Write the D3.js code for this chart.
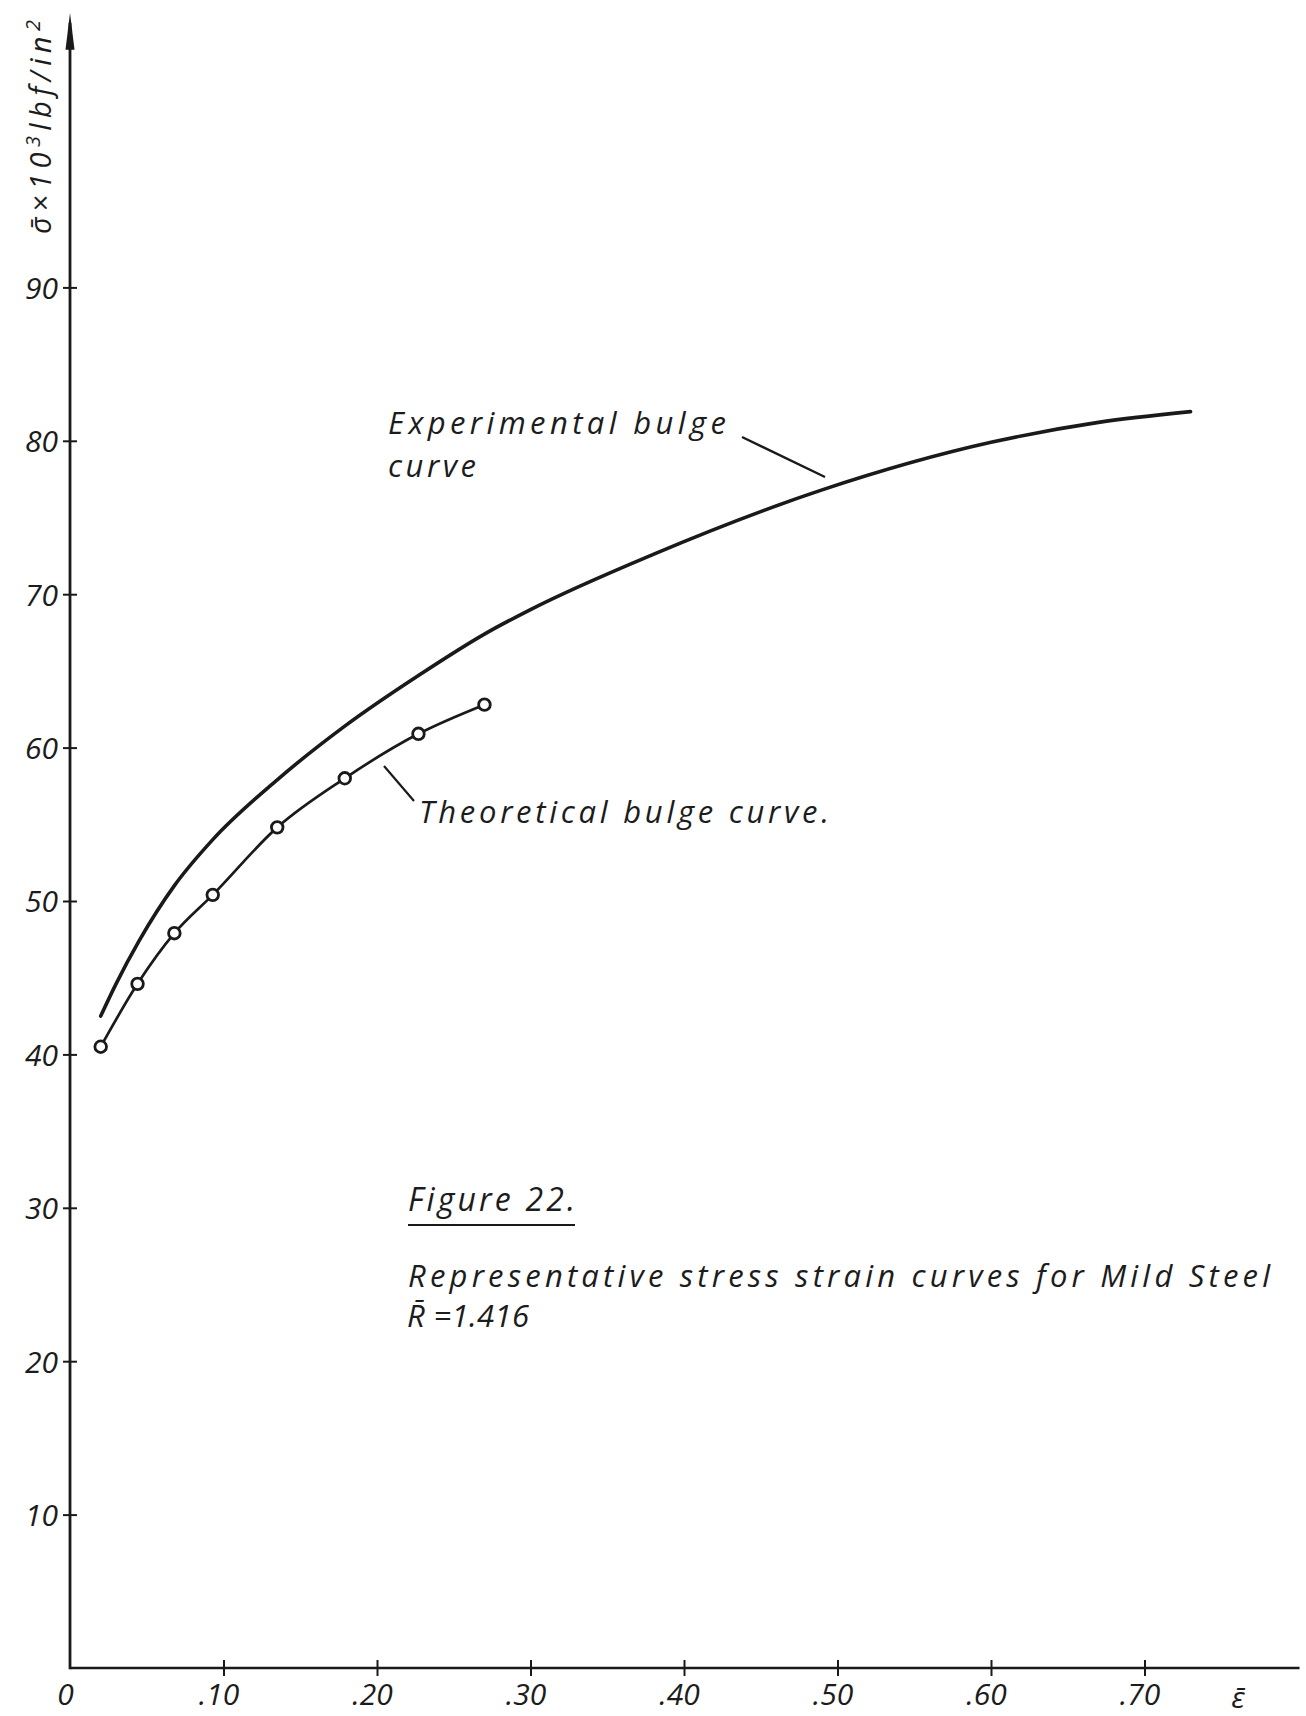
<!DOCTYPE html>
<html>
<head>
<meta charset="utf-8">
<script src="https://cdn.jsdelivr.net/npm/d3@7"></script>
<style>
  html, body { margin: 0; padding: 0; background: #ffffff; }
  svg text {
    font-family: "Open Sans", "DejaVu Sans", sans-serif;
    font-style: italic;
    font-weight: 400;
    fill: #1c1c1c;
  }
</style>
</head>
<body>
<svg id="chart" width="1306" height="1716"></svg>
<script>
// Strain axis (ε̄) ticks and labels
const strainTicks = [0, 0.10, 0.20, 0.30, 0.40, 0.50, 0.60, 0.70];
const strainTickLabels = ["0", ".10", ".20", ".30", ".40", ".50", ".60", ".70"];

// Stress axis (σ̄ × 10³ lbf/in²) ticks and labels
const stressTicks = [10, 20, 30, 40, 50, 60, 70, 80, 90];
const stressTickLabels = ["10", "20", "30", "40", "50", "60", "70", "80", "90"];

// Theoretical bulge curve: computed points (circled)
const theoreticalStrain = [0.020, 0.044, 0.068, 0.093, 0.135, 0.179, 0.227, 0.270];
const theoreticalStress = [40.5, 44.6, 47.9, 50.4, 54.8, 58.0, 60.9, 62.8];

// Experimental bulge curve: smooth measured curve
const experimentalStrain = [0.020, 0.030, 0.045, 0.068, 0.093, 0.135, 0.179, 0.227, 0.270, 0.300, 0.380, 0.490, 0.600, 0.670, 0.730];
const experimentalStress = [42.5, 44.6, 47.4, 51.0, 54.0, 57.9, 61.4, 64.7, 67.4, 69.0, 72.6, 76.8, 79.9, 81.2, 81.9];

// Axis extents beyond the last tick
const strainAxisEnd = 0.801;
const stressAxisEnd = 107.9;

const svg = d3.select("#chart");
const ink = "#1a1a1a";

const x = d3.scaleLinear().domain([0, 0.70]).range([70, 1144.5]);
const y = d3.scaleLinear().domain([0, 90]).range([1668, 287.4]);

// ---- axes ----
const yAxisG = svg.append("g").attr("transform", `translate(${x(0)},0)`)
  .call(d3.axisLeft(y).tickValues(stressTicks)
    .tickFormat((d, i) => stressTickLabels[i]).tickSize(0).tickPadding(12));
yAxisG.select(".domain").remove();
yAxisG.selectAll(".tick line")
  .attr("x1", -7).attr("x2", 7)
  .attr("stroke", ink).attr("stroke-width", 2);
yAxisG.selectAll(".tick text")
  .attr("x", -12).attr("dy", "0.36em")
  .style("font-size", "30px");

const xAxisG = svg.append("g").attr("transform", `translate(0,${y(0)})`)
  .call(d3.axisBottom(x).tickValues(strainTicks)
    .tickFormat((d, i) => strainTickLabels[i]).tickSize(0).tickPadding(0));
xAxisG.select(".domain").remove();
xAxisG.selectAll(".tick line")
  .attr("y1", -8).attr("y2", 8)
  .attr("stroke", ink).attr("stroke-width", 2)
  .attr("display", d => d === 0 ? "none" : null);
xAxisG.selectAll(".tick text")
  .attr("x", -5).attr("y", 37).attr("dy", null)
  .attr("text-anchor", "middle")
  .style("font-size", "30px");

// axis lines
svg.append("line")
  .attr("x1", x(0)).attr("x2", x(strainAxisEnd))
  .attr("y1", y(0)).attr("y2", y(0))
  .attr("stroke", ink).attr("stroke-width", 2.6);
svg.append("line")
  .attr("x1", x(0)).attr("x2", x(0))
  .attr("y1", y(0) + 1.3).attr("y2", y(stressAxisEnd) + 10)
  .attr("stroke", ink).attr("stroke-width", 2.8);
// arrowhead on the stress axis
const tipY = y(stressAxisEnd);
svg.append("path")
  .attr("d", `M${x(0)},${tipY} L${x(0) + 4.5},${tipY + 37} L${x(0) - 4.5},${tipY + 37} Z`)
  .attr("fill", ink);

// axis titles
const yTitle = svg.append("text")
  .attr("transform", `translate(51,127) rotate(-90)`)
  .attr("text-anchor", "middle")
  .attr("textLength", 214).attr("lengthAdjust", "spacing")
  .style("font-size", "29px");
yTitle.append("tspan").text("σ̄×10");
yTitle.append("tspan").attr("dy", -11).style("font-size", "20px").text("3");
yTitle.append("tspan").attr("dy", 11).text("lbf/in");
yTitle.append("tspan").attr("dy", -11).style("font-size", "20px").text("2");

svg.append("text")
  .attr("x", 1238).attr("y", 1708)
  .attr("text-anchor", "middle")
  .style("font-size", "30px")
  .text("ε̄");

// ---- curves ----
const expData = experimentalStrain.map((s, i) => [s, experimentalStress[i]]);
const theoData = theoreticalStrain.map((s, i) => [s, theoreticalStress[i]]);

const smoothLine = d3.line()
  .x(d => x(d[0])).y(d => y(d[1]))
  .curve(d3.curveMonotoneX);

svg.append("path")
  .datum(expData)
  .attr("d", smoothLine)
  .attr("fill", "none")
  .attr("stroke", ink).attr("stroke-width", 3.6)
  .attr("stroke-linecap", "round");

svg.append("path")
  .datum(theoData)
  .attr("d", smoothLine)
  .attr("fill", "none")
  .attr("stroke", ink).attr("stroke-width", 2.7);

svg.selectAll("circle.theo")
  .data(theoData)
  .join("circle")
  .attr("class", "theo")
  .attr("cx", d => x(d[0])).attr("cy", d => y(d[1]))
  .attr("r", 5.8)
  .attr("fill", "#ffffff")
  .attr("stroke", ink).attr("stroke-width", 2.8);

// ---- annotations ----
svg.append("text")
  .attr("x", 388).attr("y", 434)
  .attr("textLength", 338).attr("lengthAdjust", "spacing")
  .style("font-size", "31px")
  .text("Experimental  bulge");
svg.append("text")
  .attr("x", 388).attr("y", 477)
  .attr("textLength", 88).attr("lengthAdjust", "spacing")
  .style("font-size", "31px")
  .text("curve");
svg.append("line")
  .attr("x1", 742).attr("y1", 437).attr("x2", 825).attr("y2", 477)
  .attr("stroke", ink).attr("stroke-width", 2.4);

svg.append("text")
  .attr("x", 419).attr("y", 823)
  .attr("textLength", 410).attr("lengthAdjust", "spacing")
  .style("font-size", "31px")
  .text("Theoretical  bulge  curve.");
svg.append("line")
  .attr("x1", 384).attr("y1", 766).attr("x2", 414).attr("y2", 801)
  .attr("stroke", ink).attr("stroke-width", 2.2);

// figure caption
svg.append("text")
  .attr("x", 408).attr("y", 1211)
  .attr("textLength", 167).attr("lengthAdjust", "spacing")
  .style("font-size", "32px")
  .text("Figure 22.");
svg.append("line")
  .attr("x1", 408).attr("y1", 1225).attr("x2", 575).attr("y2", 1225)
  .attr("stroke", ink).attr("stroke-width", 2);
svg.append("text")
  .attr("x", 408).attr("y", 1287)
  .attr("textLength", 862).attr("lengthAdjust", "spacing")
  .style("font-size", "31px")
  .text("Representative  stress strain  curves for Mild Steel");
svg.append("text")
  .attr("x", 407).attr("y", 1327)
  .attr("textLength", 122).attr("lengthAdjust", "spacing")
  .style("font-size", "31px")
  .text("R̄ =1.416");
</script>
</body>
</html>
